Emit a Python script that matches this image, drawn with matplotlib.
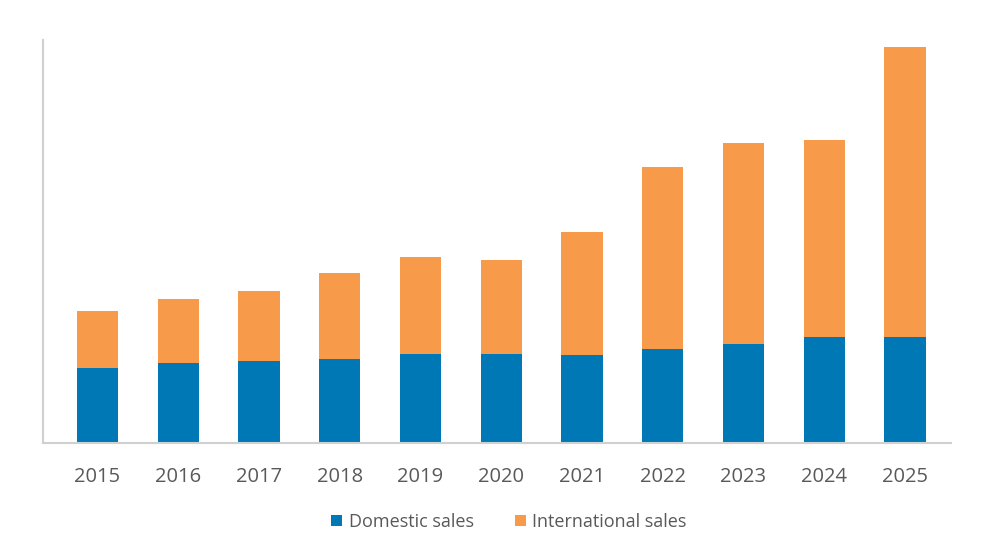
import numpy as np
import matplotlib
matplotlib.use("Agg")
import matplotlib.pyplot as plt

years = ["2015", "2016", "2017", "2018", "2019", "2020", "2021", "2022", "2023", "2024", "2025"]
domestic = [75, 80, 82, 84, 89, 89, 88, 94, 99, 106, 106]
international = [57, 64, 70, 86, 97, 94, 123, 182, 201, 197, 290]

blue = "#0078b6"
orange = "#f79b4a"
grey_txt = "#595959"
grey_line = "#d0d0d0"

plt.rcParams["font.family"] = ["Open Sans", "DejaVu Sans"]

fig = plt.figure(figsize=(9.84, 5.6), dpi=100)
ax = fig.add_axes([42.7 / 984, 1 - 443 / 560, (950.7 - 42.7) / 984, (443 - 40) / 560])

x = np.arange(len(years))
ax.bar(x, domestic, width=0.51, color=blue, label="Domestic sales")
ax.bar(x, international, width=0.51, bottom=domestic, color=orange, label="International sales")

ax.set_xlim(-0.678, 10.566)
ax.set_ylim(0, 403)
ax.set_xticks(x)
ax.set_xticklabels(years, fontsize=14.5, color=grey_txt)
ax.tick_params(axis="x", length=0, pad=17)
ax.set_yticks([])

for s in ["top", "right"]:
    ax.spines[s].set_visible(False)
for s in ["left", "bottom"]:
    ax.spines[s].set_color(grey_line)
    ax.spines[s].set_linewidth(1.5)

leg = fig.legend(loc="center", bbox_to_anchor=(509 / 984, 1 - 522 / 560), ncol=2, frameon=False,
                 fontsize=13, handlelength=0.6, handleheight=0.6, handletextpad=0.35,
                 columnspacing=2.3)
for t in leg.get_texts():
    t.set_color(grey_txt)

fig.savefig("out.png", dpi=100)
